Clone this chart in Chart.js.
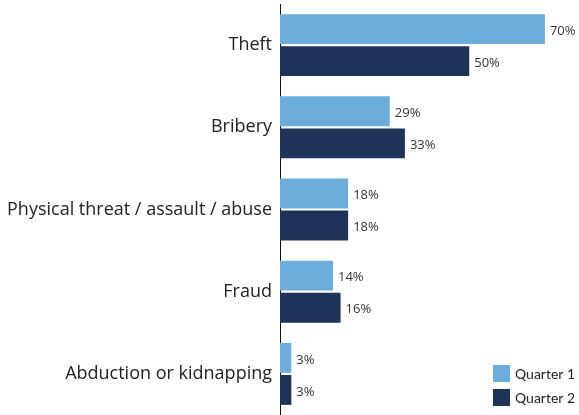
<!DOCTYPE html>
<html>
<head>
<meta charset="utf-8">
<script src="https://cdn.jsdelivr.net/npm/chart.js@4"></script>
<style>
  html, body { margin: 0; padding: 0; background: #fff; }
  #wrap { width: 579px; height: 415px; position: relative; }
</style>
</head>
<body>
<div id="wrap"><canvas id="incidentChart"></canvas></div>
<script>
const categories = ['Theft', 'Bribery', 'Physical threat / assault / abuse', 'Fraud', 'Abduction or kidnapping'];
const quarter1 = [70, 29, 18, 14, 3];
const quarter2 = [50, 33, 18, 16, 3];
const seriesNames = ['Quarter 1', 'Quarter 2'];

const FONT = '"Open Sans", Lato, sans-serif';

// value labels at the end of each bar
const valueLabels = {
    id: 'valueLabels',
    afterDatasetsDraw(chart) {
        const ctx = chart.ctx;
        ctx.save();
        ctx.font = '13px ' + FONT;
        ctx.fillStyle = '#333';
        ctx.textBaseline = 'middle';
        ctx.textAlign = 'left';
        chart.data.datasets.forEach((ds, i) => {
            chart.getDatasetMeta(i).data.forEach((bar, j) => {
                ctx.fillText(ds.data[j] + '%', bar.x + 5, bar.y + 2);
            });
        });
        ctx.restore();
    }
};

// legend boxes in the lower right corner
const cornerLegend = {
    id: 'cornerLegend',
    afterDraw(chart) {
        const ctx = chart.ctx;
        const x = 493, y0 = 365;
        ctx.save();
        ctx.font = '14px Lato, sans-serif';
        ctx.textBaseline = 'middle';
        chart.data.datasets.forEach((ds, i) => {
            const y = y0 + i * 24;
            ctx.fillStyle = ds.backgroundColor;
            ctx.fillRect(x, y, 17, 17);
            ctx.fillStyle = '#222';
            ctx.fillText(ds.label, x + 22, y + 9);
        });
        ctx.restore();
    }
};

new Chart(document.getElementById('incidentChart').getContext('2d'), {
    type: 'bar',
    data: {
        labels: categories,
        datasets: [{
            label: seriesNames[0],
            data: quarter1,
            backgroundColor: '#6daddb',
            categoryPercentage: 0.78,
            barPercentage: 0.93
        }, {
            label: seriesNames[1],
            data: quarter2,
            backgroundColor: '#1f3258',
            categoryPercentage: 0.78,
            barPercentage: 0.93
        }]
    },
    options: {
        indexAxis: 'y',
        responsive: true,
        maintainAspectRatio: false,
        animation: false,
        layout: { padding: { top: 4, bottom: -5, right: 0 } },
        plugins: {
            legend: { display: false },
            tooltip: { enabled: false }
        },
        scales: {
            x: {
                display: false,
                min: 0,
                max: 79
            },
            y: {
                afterFit(scale) {
                    scale.width = 280;
                    scale.paddingTop = 0;
                    scale.paddingBottom = 0;
                },
                grid: { display: false, drawTicks: false },
                border: { display: true, color: '#111', width: 1 },
                ticks: {
                    padding: 8,
                    color: '#222',
                    font: { family: FONT, size: 18 }
                }
            }
        }
    },
    plugins: [valueLabels, cornerLegend]
});
</script>
</body>
</html>
